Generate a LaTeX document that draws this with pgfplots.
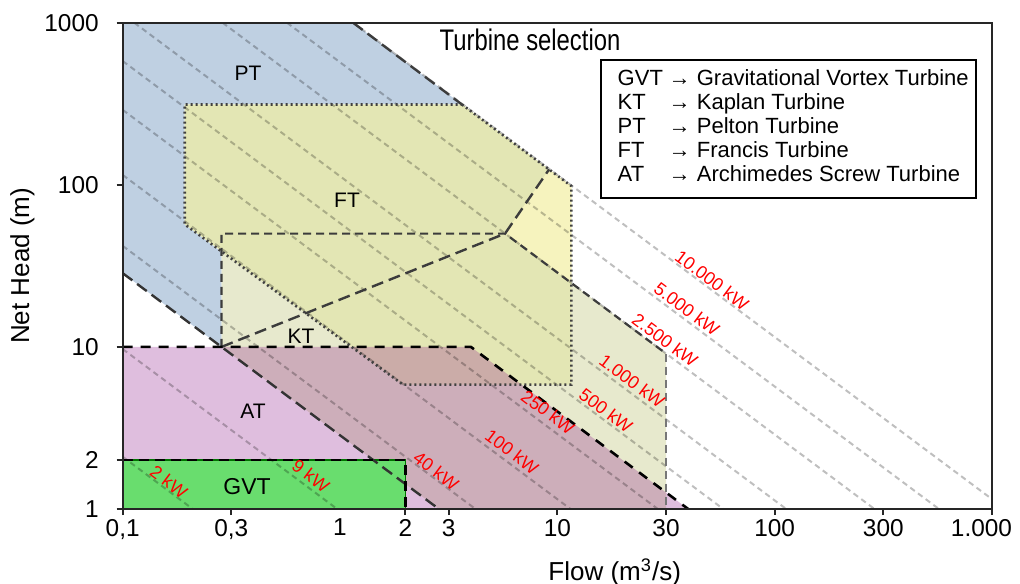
\documentclass[border=0pt]{standalone}
\usepackage{fontspec}
\setmainfont{Liberation Sans}
\usepackage{graphicx}
\usepackage{pgfplots}
\pgfplotsset{compat=1.18}
\definecolor{ptblue}{RGB}{191,208,226}
\definecolor{ftyel}{RGB}{227,230,180}
\definecolor{ftlight}{RGB}{246,243,190}
\definecolor{ktpale}{RGB}{231,233,205}
\definecolor{atpurple}{RGB}{141,23,137}
\definecolor{gvtgreen}{RGB}{105,221,110}
\definecolor{bnd}{RGB}{60,60,60}
\begin{document}
\begin{tikzpicture}
\begin{axis}[
  name=ax, scale only axis, width=434.65pt, height=243.15pt,
  xmode=log, ymode=log, xmin=0.1, xmax=1000, ymin=1, ymax=1000,
  xminorticks=false, yminorticks=false,
  axis on top,
  axis line style={line width=1pt, black!85},
  tick align=outside, major tick length=3pt,
  tick style={line width=1pt, black!85},
  tick pos=left,
  xtick={0.1,0.31623,2,3.1623,10,31.623,100,316.23,1000},
  xticklabels={{0,1},{0,3},2,3,10,30,100,300,{\makebox[20pt][r]{1.000}}},
  extra x ticks={1}, extra x tick labels={1},
  extra x tick style={major tick style={draw=none}},
  ytick={1,2,10,100,1000}, yticklabels={1,2,10,100,1000},
  ticklabel style={font=\fontsize{12.2}{14}\selectfont},
  yticklabel style={xshift=-5.5pt},
  xticklabel style={yshift=1.5pt},
  xlabel={Flow (m\textsuperscript{3}/s)},
  ylabel={Net Head (m)},
  label style={font=\fontsize{13}{15}\selectfont},
  xlabel style={at={(ticklabel cs:0.566)}, anchor=north, yshift=3pt},
  ylabel shift=-2pt,
]
% regions
\addplot[fill=ptblue, draw=none] coordinates {(0.1,1000)(1.148,1000)(3.64,313)(0.193,313)(0.193,57)(0.285,38.5)(0.285,10)(0.1,28.5)} --cycle;
\addplot[fill=ktpale, draw=none] coordinates {(0.285,50)(5.745,50)(31.62,9.1)(31.62,1)(2.85,1)(0.285,10)} --cycle;
\addplot[fill=ftyel, draw=none] coordinates {(0.193,313)(3.64,313)(11.6,98.3)(11.6,5.85)(1.95,5.85)(0.193,57)} --cycle;
\addplot[fill=ftlight, draw=none] coordinates {(5.745,50)(9.16,124.4)(11.6,98.3)(11.6,24.8)} --cycle;
\addplot[fill=atpurple, fill opacity=0.28, draw=none] coordinates {(0.1,10)(4,10)(40,1)(0.1,1)} --cycle;
\addplot[fill=gvtgreen, draw=green!45!black, line width=0.8pt] coordinates {(0.1,1)(2,1)(2,2)(0.1,2)} --cycle;
% iso-power lines
\pgfplotsset{iso/.style={black, opacity=0.25, line width=1pt, dash pattern=on 2.8pt off 2pt}}
\addplot[iso] coordinates {(0.1,2.1)(0.21,1)};
\addplot[iso] coordinates {(0.1,9.7)(0.97,1)};
\addplot[iso] coordinates {(0.1,42)(4.2,1)};
\addplot[iso] coordinates {(0.1,115)(11.5,1)};
\addplot[iso] coordinates {(0.1,290)(29,1)};
\addplot[iso] coordinates {(0.1,580)(58,1)};
\addplot[iso] coordinates {(0.113,1000)(113,1)};
\addplot[iso] coordinates {(0.288,1000)(288,1)};
\addplot[iso] coordinates {(0.57,1000)(570,1)};
\addplot[iso] coordinates {(1.15,1000)(1000,1.15)};
% boundaries
\addplot[bnd, line width=1.2pt, dash pattern=on 6pt off 3pt] coordinates {(1.148,1000)(3.64,313)};
\addplot[black!75, line width=1.3pt, dash pattern=on 1pt off 1.5pt] coordinates {(3.64,313)(11.6,98.3)(11.6,5.85)(1.95,5.85)(0.193,57)(0.193,313)} --cycle;
\addplot[black!80, line width=1.2pt, dash pattern=on 6pt off 3pt] coordinates {(0.1,28.5)(0.285,10)(2.85,1)};
\addplot[bnd, line width=1.1pt, dash pattern=on 4pt off 2.5pt] coordinates {(0.285,10)(0.285,50)(5.745,50)(31.62,9.1)};
\addplot[bnd!70, line width=1.1pt, dash pattern=on 4pt off 2.5pt] coordinates {(31.62,9.1)(31.62,1)};
\addplot[bnd, line width=1.2pt, dash pattern=on 6pt off 3pt] coordinates {(0.285,10)(5.745,50)(9.16,124.4)};
\addplot[black, line width=1.3pt, dash pattern=on 5pt off 4pt] coordinates {(0.1,10)(4,10)(40,1)};
\addplot[black, line width=1.2pt, dash pattern=on 5pt off 3pt] coordinates {(0.1,2)(2,2)(2,1)};
% region labels
\node[font=\fontsize{10.5}{12}\selectfont] at (axis cs:0.377,486) {PT};
\node[font=\fontsize{10.5}{12}\selectfont] at (axis cs:1.077,80.1) {FT};
\node[font=\fontsize{10.5}{12}\selectfont] at (axis cs:0.6616,11.64) {KT};
\node[font=\fontsize{10.5}{12}\selectfont] at (axis cs:0.3977,4.02) {AT};
\node[font=\fontsize{11.5}{13}\selectfont] at (axis cs:0.3733,1.366) {GVT};
% power labels
\tikzset{pwl/.style={text=red, rotate=-36.76, font=\fontsize{9}{10}\selectfont, inner sep=0pt}}
\node[pwl] at (axis cs:0.1633,1.467) {2 kW};
\node[pwl] at (axis cs:0.7354,1.597) {9 kW};
\node[pwl] at (axis cs:2.766,1.714) {40 kW};
\node[pwl] at (axis cs:6.186,2.245) {100 kW};
\node[pwl] at (axis cs:9.06,3.96) {250 kW};
\node[pwl] at (axis cs:16.75,4.07) {500 kW};
\node[pwl] at (axis cs:22.07,6.15) {1.000 kW};
\node[pwl] at (axis cs:31.3,11.0) {2.500 kW};
\node[pwl] at (axis cs:39.5,17.07) {5.000 kW};
\node[pwl] at (axis cs:51.5,25.76) {10.000 kW};
% title
\node[font=\fontsize{14.9}{16}\selectfont] at (rel axis cs:0.4686,0.9644) {\scalebox{0.8}[1]{Turbine selection}};
% legend box
\node[draw=black, line width=0.8pt, fill=white, anchor=north west, inner xsep=3.5pt, inner ysep=4.5pt, font=\fontsize{11}{12}\selectfont] at (rel axis cs:0.549,0.9253)
{\begin{tabular}{@{\hspace{5pt}}p{25.5pt}@{}l@{}}
GVT & → Gravitational Vortex Turbine\\
KT & → Kaplan Turbine\\
PT & → Pelton Turbine\\
FT & → Francis Turbine\\
AT & → Archimedes Screw Turbine
\end{tabular}};
\end{axis}
\pgfresetboundingbox
\path[use as bounding box] ([shift={(-61.35pt,-37pt)}]ax.south west) rectangle ([shift={(14pt,11.35pt)}]ax.north east);
\end{tikzpicture}
\end{document}
